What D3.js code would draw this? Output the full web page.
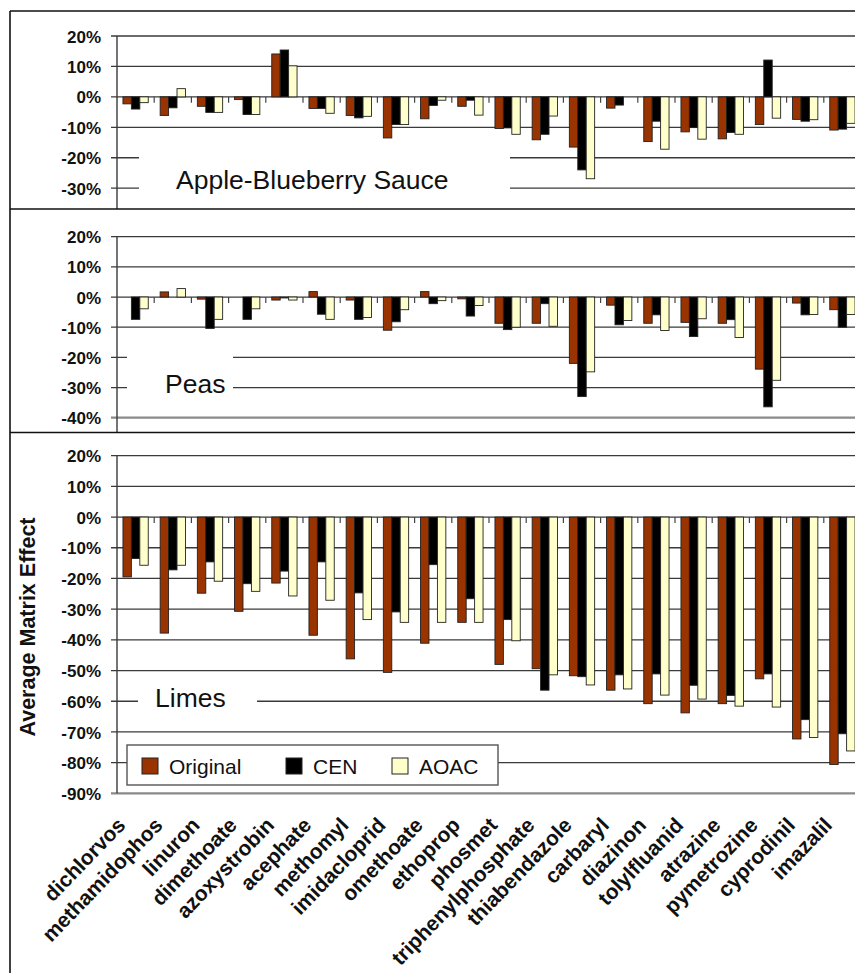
<!DOCTYPE html>
<html>
<head>
<meta charset="utf-8">
<script src="https://cdn.jsdelivr.net/npm/d3@7"></script>
<style>
  html, body { margin: 0; padding: 0; background: #fff; }
  svg { display: block; font-family: Arial, "Liberation Sans", sans-serif; }
</style>
</head>
<body>
<svg id="chart" width="855" height="973"></svg>
<script>
// Pesticide names along the shared x axis
const categories = ["dichlorvos", "methamidophos", "linuron", "dimethoate", "azoxystrobin",
  "acephate", "methomyl", "imidacloprid", "omethoate", "ethoprop", "phosmet",
  "triphenylphosphate", "thiabendazole", "carbaryl", "diazinon", "tolylfluanid",
  "atrazine", "pymetrozine", "cyprodinil", "imazalil"];

const seriesNames = ["Original", "CEN", "AOAC"];
const seriesColors = ["#993300", "#000000", "#FFFFCC"];

// Average matrix effect (%) per matrix and method
const appleOriginal = [-2.3, -6.1, -3.1, -0.9, 14.1, -3.8, -6.1, -13.5, -7.2, -3.1, -10.4, -14.1, -16.5, -3.7, -14.7, -11.5, -13.8, -9.1, -7.4, -10.9];
const appleCEN      = [-4.0, -3.6, -5.1, -5.8, 15.4, -3.8, -6.9, -9.1, -2.8, -1.1, -10.2, -12.3, -24.0, -2.7, -8.0, -10.1, -11.7, 12.1, -8.0, -10.6];
const appleAOAC     = [-1.9, 2.7, -5.1, -5.8, 10.2, -5.4, -6.4, -9.1, -1.1, -6.0, -12.3, -6.3, -26.9, 0, -17.2, -13.9, -12.3, -7.0, -7.5, -8.7];

const peasOriginal = [0, 1.7, -0.7, 0, -1.0, 1.8, -1.0, -11.0, 1.8, -0.6, -8.7, -8.7, -22.0, -2.7, -8.7, -8.4, -8.7, -23.9, -2.0, -4.2];
const peasCEN      = [-7.4, 0, -10.4, -7.4, -0.3, -5.7, -7.4, -8.2, -2.2, -6.3, -10.8, -2.2, -33.0, -9.2, -5.9, -13.1, -7.5, -36.4, -5.9, -10.0];
const peasAOAC     = [-3.9, 2.8, -7.4, -3.9, -1.0, -7.4, -6.8, -4.2, -1.2, -2.8, -10.0, -9.7, -24.8, -7.8, -11.1, -7.2, -13.4, -27.6, -5.8, -5.8];

const limesOriginal = [-19.5, -37.8, -24.8, -30.7, -21.5, -38.5, -46.2, -50.6, -41.1, -34.3, -48.0, -49.4, -51.7, -56.4, -60.8, -63.8, -60.8, -52.7, -72.3, -80.6];
const limesCEN      = [-13.5, -17.2, -14.6, -21.7, -17.6, -14.6, -24.7, -30.9, -15.5, -26.6, -33.4, -56.4, -52.0, -51.4, -51.1, -54.8, -58.1, -51.1, -66.0, -70.6];
const limesAOAC     = [-15.7, -15.7, -20.9, -24.2, -25.7, -27.1, -33.4, -34.3, -34.3, -34.3, -40.3, -51.4, -54.7, -56.0, -58.0, -59.3, -61.6, -61.9, -71.8, -76.2];

// Tick values of each panel's y axis
const appleTicks = [20, 10, 0, -10, -20, -30];
const peasTicks  = [20, 10, 0, -10, -20, -30, -40];
const limesTicks = [20, 10, 0, -10, -20, -30, -40, -50, -60, -70, -80, -90];

const panelNames = ["Apple-Blueberry Sauce", "Peas", "Limes"];

const svg = d3.select("#chart");
const W = 855;
const axisX = 117;
const fontStack = 'Arial, "Liberation Sans", sans-serif';

const x0 = d3.scaleBand().domain(categories).range([axisX, 861]).paddingInner(0.32).paddingOuter(0.16);
const x1 = d3.scaleBand().domain(seriesNames).range([0, x0.bandwidth()]);
const color = d3.scaleOrdinal().domain(seriesNames).range(seriesColors);
const step = x0.step();

const panels = [
  { name: panelNames[0], values: [appleOriginal, appleCEN, appleAOAC], ticks: appleTicks,
    domain: [20, -40], range: [36, 218.6], top: 11, bottom: 209, axisEnd: 209,
    box: { x: 139, y: 143, w: 371, h: 60 }, label: { x: 176, y: 188.5 } },
  { name: panelNames[1], values: [peasOriginal, peasCEN, peasAOAC], ticks: peasTicks,
    domain: [20, -40], range: [236.7, 417.7], top: 209, bottom: 432.5, axisEnd: 432.5, floor: true,
    box: { x: 127, y: 345, w: 106, h: 58 }, label: { x: 165, y: 393 } },
  { name: panelNames[2], values: [limesOriginal, limesCEN, limesAOAC], ticks: limesTicks,
    domain: [20, -90], range: [455.7, 793.3], top: 432.5, bottom: 973, axisEnd: 793.3, floor: true,
    box: { x: 138, y: 680, w: 119, h: 42 }, label: { x: 155, y: 707 } }
];

const defs = svg.append("defs");

panels.forEach((p, pi) => {
  const clipId = "clip" + pi;
  defs.append("clipPath").attr("id", clipId)
    .append("rect").attr("x", 0).attr("y", p.top).attr("width", W).attr("height", p.bottom - p.top);

  const g = svg.append("g").attr("clip-path", `url(#${clipId})`);
  const y = d3.scaleLinear().domain(p.domain).range(p.range);

  // horizontal gridlines, starting at the outer tick mark
  g.append("g").selectAll("line").data(p.ticks).join("line")
    .attr("x1", axisX - 6).attr("x2", W)
    .attr("y1", d => y(d)).attr("y2", d => y(d))
    .attr("stroke", d => (p.floor && d === p.domain[1]) ? "#8a8a8a" : "#3a3a3a")
    .attr("stroke-width", d => (p.floor && d === p.domain[1]) ? 2.2 : 1.3);

  // panel title sits on a white box that interrupts the gridlines
  g.append("rect").attr("x", p.box.x).attr("y", p.box.y)
    .attr("width", p.box.w).attr("height", p.box.h).attr("fill", "#fff");
  g.append("text").attr("x", p.label.x).attr("y", p.label.y)
    .attr("font-size", 26.5).attr("fill", "#111").text(p.name);

  // grouped bars
  const rows = categories.map((c, i) => ({ cat: c, vals: seriesNames.map((s, k) => ({ s, v: p.values[k][i] })) }));
  g.append("g").selectAll("g").data(rows).join("g")
    .attr("transform", d => `translate(${x0(d.cat)},0)`)
    .selectAll("rect").data(d => d.vals).join("rect")
    .attr("x", d => x1(d.s))
    .attr("width", x1.bandwidth())
    .attr("y", d => y(Math.max(0, d.v)))
    .attr("height", d => Math.abs(y(d.v) - y(0)))
    .attr("fill", d => color(d.s))
    .attr("stroke", "#222").attr("stroke-width", 0.9);

  // category tick marks hanging below the zero line
  g.append("g").selectAll("line").data(categories.slice(1)).join("line")
    .attr("x1", d => x0(d) - step * 0.16).attr("x2", d => x0(d) - step * 0.16)
    .attr("y1", y(0)).attr("y2", y(0) + 6)
    .attr("stroke", "#444").attr("stroke-width", 1.2);

  // y axis with percent labels
  const axis = d3.axisLeft(y).tickValues(p.ticks).tickSize(0).tickPadding(0)
    .tickFormat(d => d + "%");
  const ag = svg.append("g").attr("transform", `translate(${axisX},0)`).call(axis);
  ag.select(".domain").remove();
  ag.selectAll("text").attr("x", -16).attr("dy", "0.36em")
    .attr("font-size", 17).attr("font-weight", "bold").attr("font-family", fontStack).attr("fill", "#111");

  g.append("line").attr("x1", axisX).attr("x2", axisX)
    .attr("y1", p.range[0]).attr("y2", p.axisEnd)
    .attr("stroke", "#3a3a3a").attr("stroke-width", 1.4);
});

// x axis category labels under the bottom panel
const limesY = d3.scaleLinear().domain([20, -90]).range([455.7, 793.3]);
svg.append("g").selectAll("text").data(categories).join("text")
  .attr("transform", d => `translate(${x0(d) + x0.bandwidth() / 2 - 9},${limesY(-90) + 33}) rotate(-46)`)
  .attr("text-anchor", "end")
  .attr("font-size", 21).attr("font-weight", "bold").attr("fill", "#111")
  .text(d => d);

// y axis title
svg.append("text")
  .attr("transform", `translate(35,627) rotate(-90)`)
  .attr("text-anchor", "middle")
  .attr("font-size", 21.5).attr("font-weight", "bold").attr("fill", "#111")
  .text("Average Matrix Effect");

// legend
const legend = svg.append("g");
legend.append("rect").attr("x", 127).attr("y", 745).attr("width", 371).attr("height", 40)
  .attr("fill", "#fff").attr("stroke", "#555").attr("stroke-width", 1.4);
const legendX = [142, 286, 392];
seriesNames.forEach((s, k) => {
  legend.append("rect").attr("x", legendX[k]).attr("y", 758).attr("width", 16).attr("height", 16)
    .attr("fill", color(s)).attr("stroke", "#222").attr("stroke-width", 1);
  legend.append("text").attr("x", legendX[k] + 27).attr("y", 773.5)
    .attr("font-size", 21).attr("fill", "#111").text(s);
});

// outer frame and panel dividers
svg.append("line").attr("x1", 10).attr("x2", W).attr("y1", 11).attr("y2", 11).attr("stroke", "#111").attr("stroke-width", 1.6);
svg.append("line").attr("x1", 10).attr("x2", 10).attr("y1", 11).attr("y2", 973).attr("stroke", "#111").attr("stroke-width", 1.6);
[209, 432.5].forEach(yy => {
  svg.append("line").attr("x1", 10).attr("x2", W).attr("y1", yy).attr("y2", yy).attr("stroke", "#111").attr("stroke-width", 1.6);
});
</script>
</body>
</html>
